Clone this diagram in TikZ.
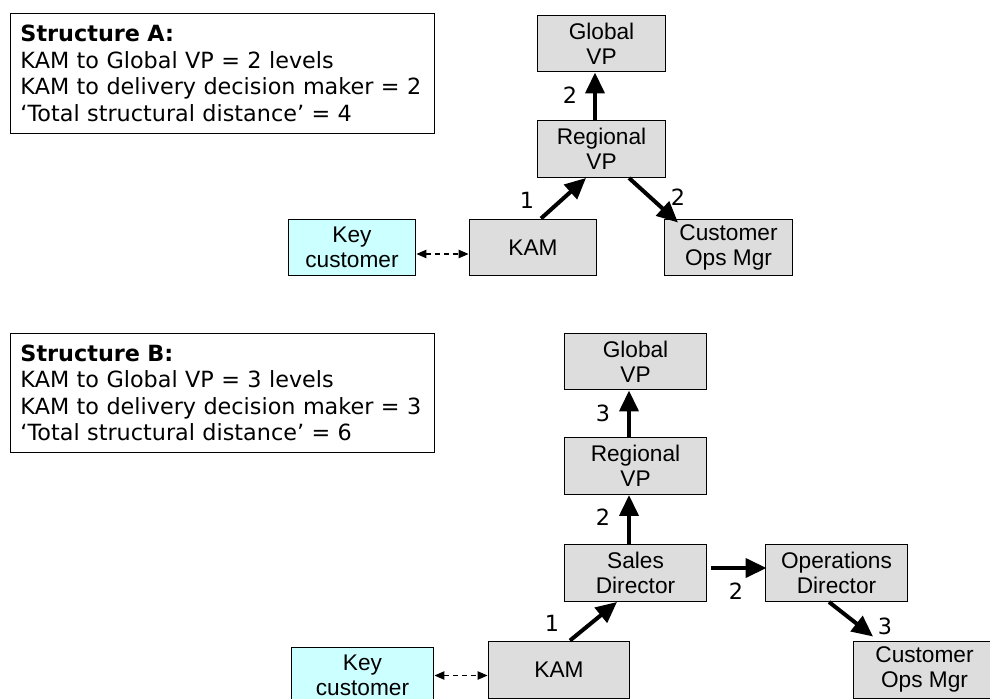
\documentclass[tikz,border=0pt]{standalone}
\usepackage{fontspec}
\setmainfont{Liberation Sans}
\newfontfamily\verdana{DejaVu Sans}
\usepackage{xcolor}
\usetikzlibrary{arrows.meta}
\definecolor{boxgray}{RGB}{221,221,221}
\definecolor{keycyan}{RGB}{204,255,255}

\tikzset{
  unit/.style={draw=black,line width=0.02cm,fill=boxgray,align=center,
    minimum height=1.14cm,inner sep=0pt,
    font=\fontsize{12.9}{14.2}\selectfont},
  keyunit/.style={unit,fill=keycyan},
  infobox/.style={draw=black,line width=0.02cm,fill=white,anchor=north west,
    minimum width=8.48cm,minimum height=2.4cm,inner xsep=0.2cm,
    text width=8.08cm,align=left,font=\verdana\fontsize{12.7}{15.1}\selectfont},
  hop/.style={line width=0.08cm,-{Triangle[length=0.42cm,width=0.38cm]}},
  link/.style={line width=0.6pt,dash pattern=on 3pt off 2pt,
    {Triangle[length=0.2cm,width=0.17cm]}-{Triangle[length=0.2cm,width=0.17cm]}},
  hopnum/.style={font=\verdana\fontsize{12.7}{15.1}\selectfont,inner sep=0pt}
}

\begin{document}
\begin{tikzpicture}[x=0.02cm,y=-0.02cm]

  \useasboundingbox (0,0) rectangle (990,699);

  % Structure A.
  \node[infobox] (infoA) at (10,13) {\textbf{Structure A:}\\
    KAM to Global VP = 2 levels\\
    KAM to delivery decision maker = 2\\
    ‘Total structural distance’ = 4};

  \node[unit,minimum width=2.58cm] (gvpA) at (601.5,43.5) {Global\\VP};
  \node[unit,minimum width=2.58cm] (rvpA) at (601.5,149) {Regional\\VP};
  \node[keyunit,minimum width=2.56cm] (keyA) at (352,247.5) {Key\\customer};
  \node[unit,minimum width=2.56cm] (kamA) at (533,247.5) {KAM};
  \node[unit,minimum width=2.58cm] (copsA) at (728.5,247.5) {Customer\\Ops Mgr};

  \draw[hop] ([xshift=-0.13cm]rvpA.north) -- ([xshift=-0.13cm]gvpA.south);
  \draw[hop] ([xshift=0.16cm]kamA.north) -- ([xshift=-0.31cm]rvpA.south);
  \draw[hop] ([xshift=0.55cm]rvpA.south) -- ([xshift=-1.01cm,yshift=-0.08cm]copsA.north);
  \draw[link] ([yshift=-0.13cm]keyA.east) -- ([yshift=-0.13cm]kamA.west);

  \node[hopnum] (numA1) at (527,200) {1};
  \node[hopnum] (numA2) at (570,95) {2};
  \node[hopnum] (numA3) at (678,197) {2};

  % Structure B.
  \node[infobox,minimum height=2.38cm] (infoB) at (10,333) {\textbf{Structure B:}\\
    KAM to Global VP = 3 levels\\
    KAM to delivery decision maker = 3\\
    ‘Total structural distance’ = 6};

  \node[unit,minimum width=2.86cm] (gvpB) at (635.5,361.5) {Global\\VP};
  \node[unit,minimum width=2.86cm] (rvpB) at (635.5,466) {Regional\\VP};
  \node[unit,minimum width=2.86cm] (sdB) at (635.5,573) {Sales\\Director};
  \node[unit,minimum width=2.86cm] (odB) at (836.5,573) {Operations\\Director};
  \node[unit,minimum width=2.84cm] (kamB) at (559,669.5) {KAM};
  \node[keyunit,minimum width=2.86cm] (keyB) at (362.5,675.5) {Key\\customer};
  \node[unit,minimum width=2.86cm] (copsB) at (924.5,669.5) {Customer\\Ops Mgr};

  \draw[hop] ([xshift=-0.13cm]rvpB.north) -- ([xshift=-0.13cm]gvpB.south);
  \draw[hop] ([xshift=-0.13cm]sdB.north) -- ([xshift=-0.13cm]rvpB.south);
  \draw[hop] ([xshift=0.22cm]kamB.north) -- ([xshift=-0.37cm]sdB.south);
  \draw[hop] ([xshift=0.08cm,yshift=0.1cm]sdB.east) -- ([xshift=0.04cm,yshift=0.1cm]odB.west);
  \draw[hop] ([xshift=-0.15cm]odB.south) -- ([xshift=-1.03cm,yshift=0.08cm]copsB.north);
  \draw[link] (keyB.east) -- (keyB.east -| kamB.west);

  \node[hopnum] (numB1) at (603,413) {3};
  \node[hopnum] (numB2) at (603,517) {2};
  \node[hopnum] (numB3) at (552,623) {1};
  \node[hopnum] (numB4) at (736,591) {2};
  \node[hopnum] (numB5) at (885,626) {3};

\end{tikzpicture}
\end{document}
